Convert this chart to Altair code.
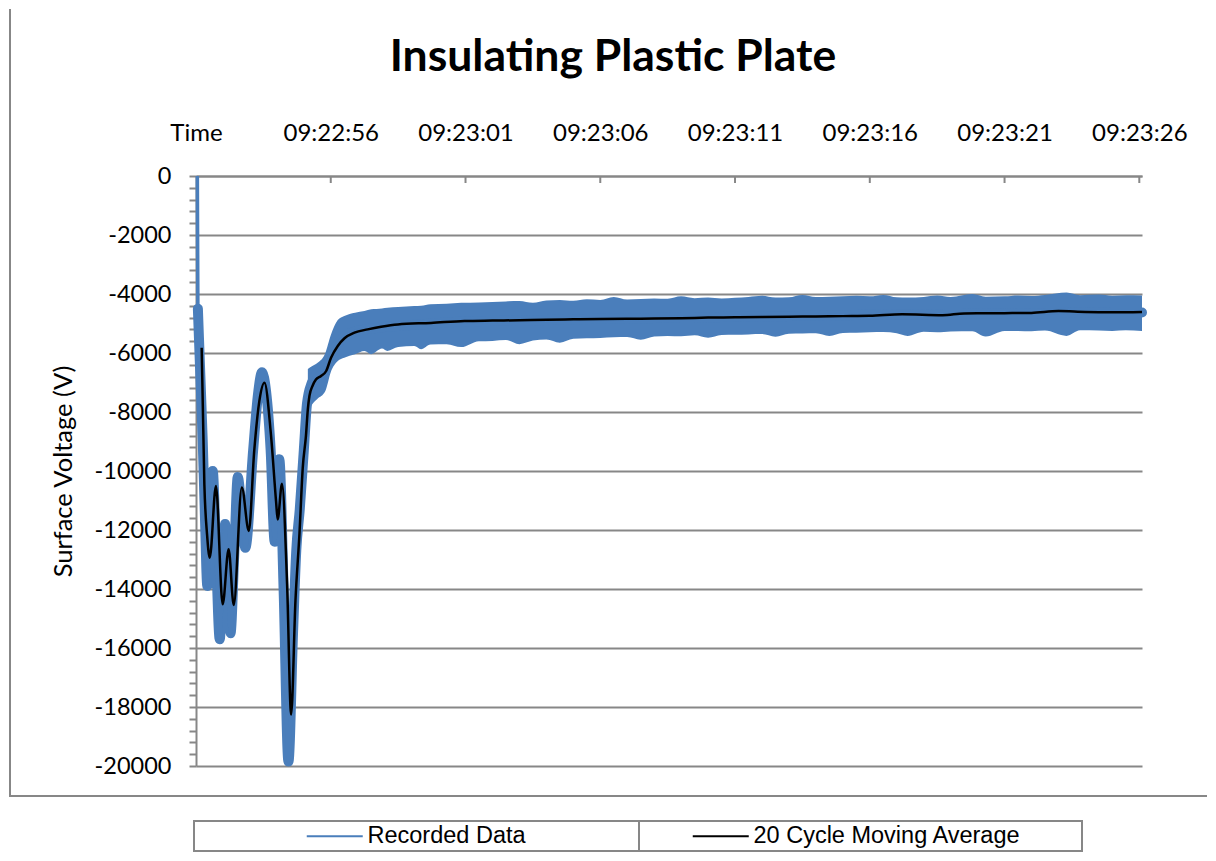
import altair as alt
import pandas as pd

TITLE = "Insulating Plastic Plate"
Y_TITLE = "Surface Voltage (V)"
SERIES = ["Recorded Data", "20 Cycle Moving Average"]
TIME_TICKS = [0, 5, 10, 15, 20, 25, 30, 35]
TIME_LABELS = ["Time", "09:22:56", "09:23:01", "09:23:06", "09:23:11",
               "09:23:16", "09:23:21", "09:23:26"]

# Recorded data (centre of the blue trace), seconds after 09:22:51
rec_t = [0.05, 0.07, 0.15, 0.25, 0.33, 0.42, 0.52, 0.62, 0.75, 0.88, 0.98, 1.08,
         1.18, 1.28, 1.42, 1.55, 1.70, 1.83, 2.12, 2.30, 2.45, 2.60, 2.77, 2.92,
         3.09, 3.25, 3.43, 3.60, 3.72, 3.85, 4.00, 4.12, 4.30, 4.50, 4.80, 5.10,
         5.50, 6.00, 7.00, 8.00, 9.00, 10.0, 12.0, 14.0, 16.0, 18.0, 20.0, 22.0,
         24.0, 26.0, 28.0, 30.0, 32.0, 34.0, 35.1]
rec_v = [0, -4500, -6500, -9000, -11500, -13900, -12000, -10000, -13000, -15700,
         -13800, -11800, -13800, -15500, -12800, -10200, -11500, -12600, -9300,
         -7400, -6650, -7300, -9300, -12400, -9600, -14000, -19850, -15500,
         -12700, -11300, -9300, -7700, -7000, -6700, -6400, -5900, -5450, -5250,
         -5120, -5050, -4980, -4930, -4900, -4860, -4830, -4800, -4770, -4750,
         -4720, -4690, -4680, -4660, -4640, -4630, -4630]

# Noise envelope of the recorded data (upper / lower edge)
band_t = [4.15, 4.30, 4.50, 4.80, 5.00, 5.26, 5.50, 5.90, 6.25, 6.50, 6.90, 7.10,
          7.50, 8.10, 8.35, 8.70, 9.30, 9.84, 10.5, 11.0, 11.5, 12.0, 12.5, 13.0,
          13.5, 14.0, 14.5, 15.0, 15.5, 16.0, 16.5, 17.0, 17.5, 18.0, 18.5, 19.0,
          19.5, 20.0, 20.5, 21.0, 21.5, 22.0, 22.5, 23.0, 23.5, 24.0, 24.5, 25.0,
          25.5, 26.0, 26.4, 27.0, 27.5, 28.0, 28.8, 29.3, 30.0, 30.5, 31.0, 31.5,
          32.3, 32.8, 33.5, 34.0, 34.5, 35.1]
band_hi = [-6540, -6450, -6340, -6000, -5400, -4880, -4745, -4633, -4576, -4520,
           -4490, -4465, -4440, -4410, -4400, -4350, -4330, -4300, -4290, -4270,
           -4250, -4240, -4300, -4220, -4200, -4230, -4180, -4200, -4100, -4190,
           -4170, -4150, -4160, -4080, -4140, -4120, -4150, -4130, -4100, -4060,
           -4120, -4110, -4030, -4100, -4090, -4080, -4060, -4080, -4030, -4110,
           -4120, -4100, -4050, -4100, -4000, -4090, -4080, -4050, -4070, -4030,
           -3950, -4040, -4020, -4060, -4040, -4050]
band_lo = [-7970, -7750, -7560, -7290, -6650, -6270, -6160, -6045, -5932, -6040,
           -5850, -5930, -5800, -5760, -5870, -5710, -5700, -5800, -5600, -5590,
           -5560, -5700, -5580, -5540, -5650, -5520, -5500, -5490, -5470, -5460,
           -5550, -5440, -5420, -5430, -5400, -5480, -5390, -5380, -5370, -5360,
           -5450, -5350, -5340, -5330, -5420, -5320, -5310, -5300, -5290, -5330,
           -5420, -5280, -5300, -5270, -5260, -5440, -5250, -5250, -5260, -5240,
           -5420, -5230, -5240, -5250, -5230, -5250]

# 20 cycle moving average
ma_t = [0.21, 0.31, 0.41, 0.51, 0.74, 0.99, 1.21, 1.40, 1.70, 1.96, 2.16, 2.35,
        2.54, 2.78, 2.97, 3.03, 3.19, 3.38, 3.53, 3.69, 3.84, 3.96, 4.08, 4.15,
        4.21, 4.33, 4.45, 4.64, 4.83, 5.01, 5.26, 5.51, 5.88, 6.37, 6.87, 7.49,
        8.72, 9.96, 11, 12, 13, 14, 15, 16, 17, 18, 19, 20, 21, 22, 23, 24, 25,
        26.2, 27.7, 28.5, 30, 31, 32, 33, 34, 35.1]
ma_v = [-5820, -10450, -12150, -12940, -10510, -14520, -12650, -14540, -10560,
        -12030, -9320, -7630, -7005, -8760, -11020, -11640, -10430, -13840,
        -18250, -14400, -12100, -9900, -8800, -7900, -7450, -7100, -6900, -6780,
        -6610, -6160, -5760, -5500, -5310, -5200, -5110, -5030, -4980, -4915,
        -4900, -4890, -4870, -4860, -4850, -4840, -4830, -4820, -4800, -4790,
        -4780, -4770, -4760, -4750, -4740, -4690, -4720, -4660, -4650, -4640,
        -4580, -4610, -4620, -4610]

GRAY = "#878787"
BLUE = "#4A7EBB"

rec = pd.DataFrame({"t": rec_t, "v": rec_v, "series": SERIES[0]})
ma = pd.DataFrame({"t": ma_t, "v": ma_v, "series": SERIES[1]})
band = pd.DataFrame({"t": band_t, "hi": band_hi, "lo": band_lo})
ticks = pd.DataFrame({"t": TIME_TICKS[1:]})
one = pd.DataFrame({"k": [0]})

xscale = alt.Scale(domain=[0, 35.1], nice=False, zero=False)
yscale = alt.Scale(domain=[-20000, 0], nice=False, zero=False)

label_js = "[" + ",".join("'%s'" % s for s in TIME_LABELS) + "][round(datum.value / 5)]"
x_axis = alt.Axis(orient="top", values=TIME_TICKS, labelExpr=label_js, grid=False,
                  tickSize=0, labelPadding=36, labelBaseline="alphabetic",
                  labelFlush=False, labelOverlap=False, title=None, labelFontSize=24)
y_axis = alt.Axis(values=list(range(-20000, 1, 400)),
                  labelExpr="datum.value % 2000 === 0 ? '' + datum.value : ''",
                  gridOpacity={"condition": {"test": "datum.value % 2000 === 0", "value": 1},
                               "value": 0},
                  tickSize=7, labelPadding=18, labelOverlap=False, labelFontSize=23.5,
                  title=Y_TITLE, titleFont="Lato", titleFontSize=25.5,
                  titleFontWeight="normal", titleColor="black",
                  titleX=-133, titleY=295, titleAngle=270, titleAlign="center",
                  titleBaseline="middle")

x_enc = alt.X("t:Q", scale=xscale, axis=x_axis)

legend = alt.Legend(orient="none", legendX=-2, legendY=645, direction="horizontal",
                    title=" ", titleOrient="right", titleFontSize=1, titlePadding=58,
                    symbolType="M9.8,0H15.4", symbolSize=400, symbolStrokeWidth=2,
                    labelFont="Liberation Sans", labelFontSize=23.5, labelColor="black",
                    labelOffset=147, labelLimit=500, columnPadding=57, padding=3,
                    strokeColor=GRAY)
color_enc = alt.Color("series:N", scale=alt.Scale(domain=SERIES, range=[BLUE, "#000000"]),
                      legend=legend)

frame_left = alt.Chart(one).mark_rule(color=GRAY, strokeWidth=2).encode(
    x=alt.value(-186), y=alt.value(-167), y2=alt.value(620))
frame_bottom = alt.Chart(one).mark_rule(color=GRAY, strokeWidth=2).encode(
    x=alt.value(-187), x2=alt.value(1011), y=alt.value(620))
divider = alt.Chart(one).mark_rule(color=GRAY, strokeWidth=2).encode(
    x=alt.value(443), y=alt.value(645), y2=alt.value(676))

band_area = alt.Chart(band).mark_area(color=BLUE, interpolate="monotone").encode(
    x=x_enc, y=alt.Y("hi:Q", scale=yscale, axis=y_axis), y2="lo:Q")

rec_thick = alt.Chart(rec).transform_filter(alt.datum.t >= 0.07).mark_line(
    color=BLUE, strokeWidth=10, strokeCap="round", strokeJoin="round",
    interpolate="monotone").encode(
    x=x_enc, y=alt.Y("v:Q", scale=yscale, axis=y_axis))

rec_thin = alt.Chart(rec).mark_line(strokeWidth=3.5, interpolate="monotone").encode(
    x=x_enc, y=alt.Y("v:Q", scale=yscale, axis=y_axis), color=color_enc)

ma_line = alt.Chart(ma).mark_line(strokeWidth=2.5, interpolate="monotone").encode(
    x=x_enc, y=alt.Y("v:Q", scale=yscale, axis=y_axis), color=color_enc)

xticks = alt.Chart(ticks).mark_rule(color=GRAY, strokeWidth=2).encode(
    x=x_enc, y=alt.value(0), y2=alt.value(7))

chart = alt.layer(frame_left, frame_bottom, band_area, rec_thick, rec_thin, ma_line,
                  xticks, divider).properties(
    width=946, height=590, padding=0,
    title=alt.Title(TITLE, font="Lato", fontSize=44.5, fontWeight="bold", color="black",
                    anchor="middle", frame="group", dx=-56, offset=-107,
                    baseline="alphabetic"),
).configure_view(stroke=None).configure_axis(
    domainColor=GRAY, domainWidth=2, gridColor=GRAY, gridWidth=2,
    tickColor=GRAY, tickWidth=2, labelColor="black", labelFont="Lato",
).configure_legend(strokeWidth=2)

chart.save("out.html", embed_options={"renderer": "svg", "actions": False})
